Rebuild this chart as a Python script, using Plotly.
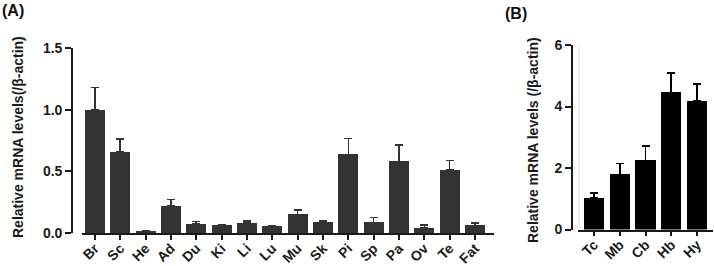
import plotly.graph_objects as go

# Panel A data
tissues_a = ["Br", "Sc", "He", "Ad", "Du", "Ki", "Li", "Lu", "Mu", "Sk", "Pi", "Sp", "Pa", "Ov", "Te", "Fat"]
values_a = [1.00, 0.66, 0.012, 0.223, 0.077, 0.062, 0.084, 0.054, 0.151, 0.092, 0.637, 0.086, 0.58, 0.043, 0.512, 0.062]
errors_a = [0.18, 0.10, 0.003, 0.05, 0.015, 0.004, 0.012, 0.004, 0.035, 0.006, 0.13, 0.04, 0.135, 0.02, 0.075, 0.02]
yticks_a = [0.0, 0.5, 1.0, 1.5]
yticklabels_a = ["0.0", "0.5", "1.0", "1.5"]

# Panel B data
regions_b = ["Tc", "Mb", "Cb", "Hb", "Hy"]
values_b = [1.03, 1.79, 2.25, 4.46, 4.17]
errors_b = [0.16, 0.36, 0.46, 0.63, 0.57]
yticks_b = [0, 2, 4, 6]

W, H = 714, 266
FONT = "Liberation Sans, Arial, sans-serif"

def px_x(p):
    return p / W

def px_y(p):
    return (H - p) / H

fig = go.Figure()

fig.add_trace(go.Bar(
    x=list(range(len(tissues_a))), y=values_a, width=0.79,
    marker=dict(color="#333333", line=dict(width=0)),
    error_y=dict(type="data", array=errors_a, arrayminus=[0] * len(errors_a), symmetric=False,
                 color="#333333", thickness=1.6, width=4),
    xaxis="x", yaxis="y", showlegend=False,
))

fig.add_trace(go.Bar(
    x=list(range(len(regions_b))), y=values_b, width=0.78,
    marker=dict(color="#000000", line=dict(width=0)),
    error_y=dict(type="data", array=errors_b, arrayminus=[0] * len(errors_b), symmetric=False,
                 color="#000000", thickness=1.6, width=4),
    xaxis="x2", yaxis="y2", showlegend=False,
))

tickfont = dict(family=FONT, size=14, color="#1a1a1a", weight="bold")
axis_common = dict(showline=True, linecolor="#1a1a1a", linewidth=1.6, ticks="outside",
                   tickwidth=1.6, tickcolor="#1a1a1a", showgrid=False,
                   zeroline=False, tickfont=tickfont, fixedrange=True, automargin=False)

fig.update_layout(
    template="none",
    width=W, height=H,
    margin=dict(l=0, r=0, t=0, b=0, pad=0),
    paper_bgcolor="white", plot_bgcolor="white",
    bargap=0,
    xaxis=dict(domain=[px_x(82), px_x(494)], range=[-0.51, 15.75], anchor="y",
               tickmode="array", tickvals=list(range(len(tissues_a))), ticktext=tissues_a,
               tickangle=-45, ticklen=5, ticklabelstandoff=-5, **axis_common),
    yaxis=dict(domain=[px_y(233), px_y(48)], range=[0, 1.5], anchor="free", position=px_x(72),
               tickmode="array", tickvals=yticks_a, ticktext=yticklabels_a, ticklen=6, **axis_common),
    xaxis2=dict(domain=[px_x(578), px_x(713)], range=[-0.62, 4.62], anchor="y2",
                tickmode="array", tickvals=list(range(len(regions_b))), ticktext=regions_b,
                tickangle=-45, ticklen=5, ticklabelstandoff=-5, **axis_common),
    yaxis2=dict(domain=[px_y(229.5), px_y(45)], range=[0, 6], anchor="free", position=px_x(572),
                tickmode="array", tickvals=yticks_b, ticklen=6, **axis_common),
)

title_font = dict(family=FONT, size=14, color="#1a1a1a", weight="bold")
fig.add_annotation(text="Relative mRNA levels(/β-actin)", textangle=-90, x=px_x(18), y=px_y(137),
                   xref="paper", yref="paper", showarrow=False, font=title_font,
                   xanchor="center", yanchor="middle")
fig.add_annotation(text="Relative mRNA levels (/β-actin)", textangle=-90, x=px_x(533), y=px_y(140),
                   xref="paper", yref="paper", showarrow=False, font=title_font,
                   xanchor="center", yanchor="middle")

panel_font = dict(family=FONT, size=16, color="#111111", weight="bold")
fig.add_annotation(text="(A)", x=px_x(0), y=px_y(10), xref="paper", yref="paper", showarrow=False,
                   font=panel_font, xanchor="left", yanchor="middle")
fig.add_annotation(text="(B)", x=px_x(516), y=px_y(13), xref="paper", yref="paper", showarrow=False,
                   font=panel_font, xanchor="center", yanchor="middle")

# faint vertical line in panel B
fig.add_shape(type="line", xref="paper", yref="paper", x0=px_x(579), x1=px_x(579),
              y0=px_y(229), y1=px_y(45), line=dict(color="#e0e0e0", width=1), layer="below")

fig.write_html("out.html", config={"displayModeBar": False},
               post_script="document.body.style.margin='0';document.body.style.overflow='hidden';")
